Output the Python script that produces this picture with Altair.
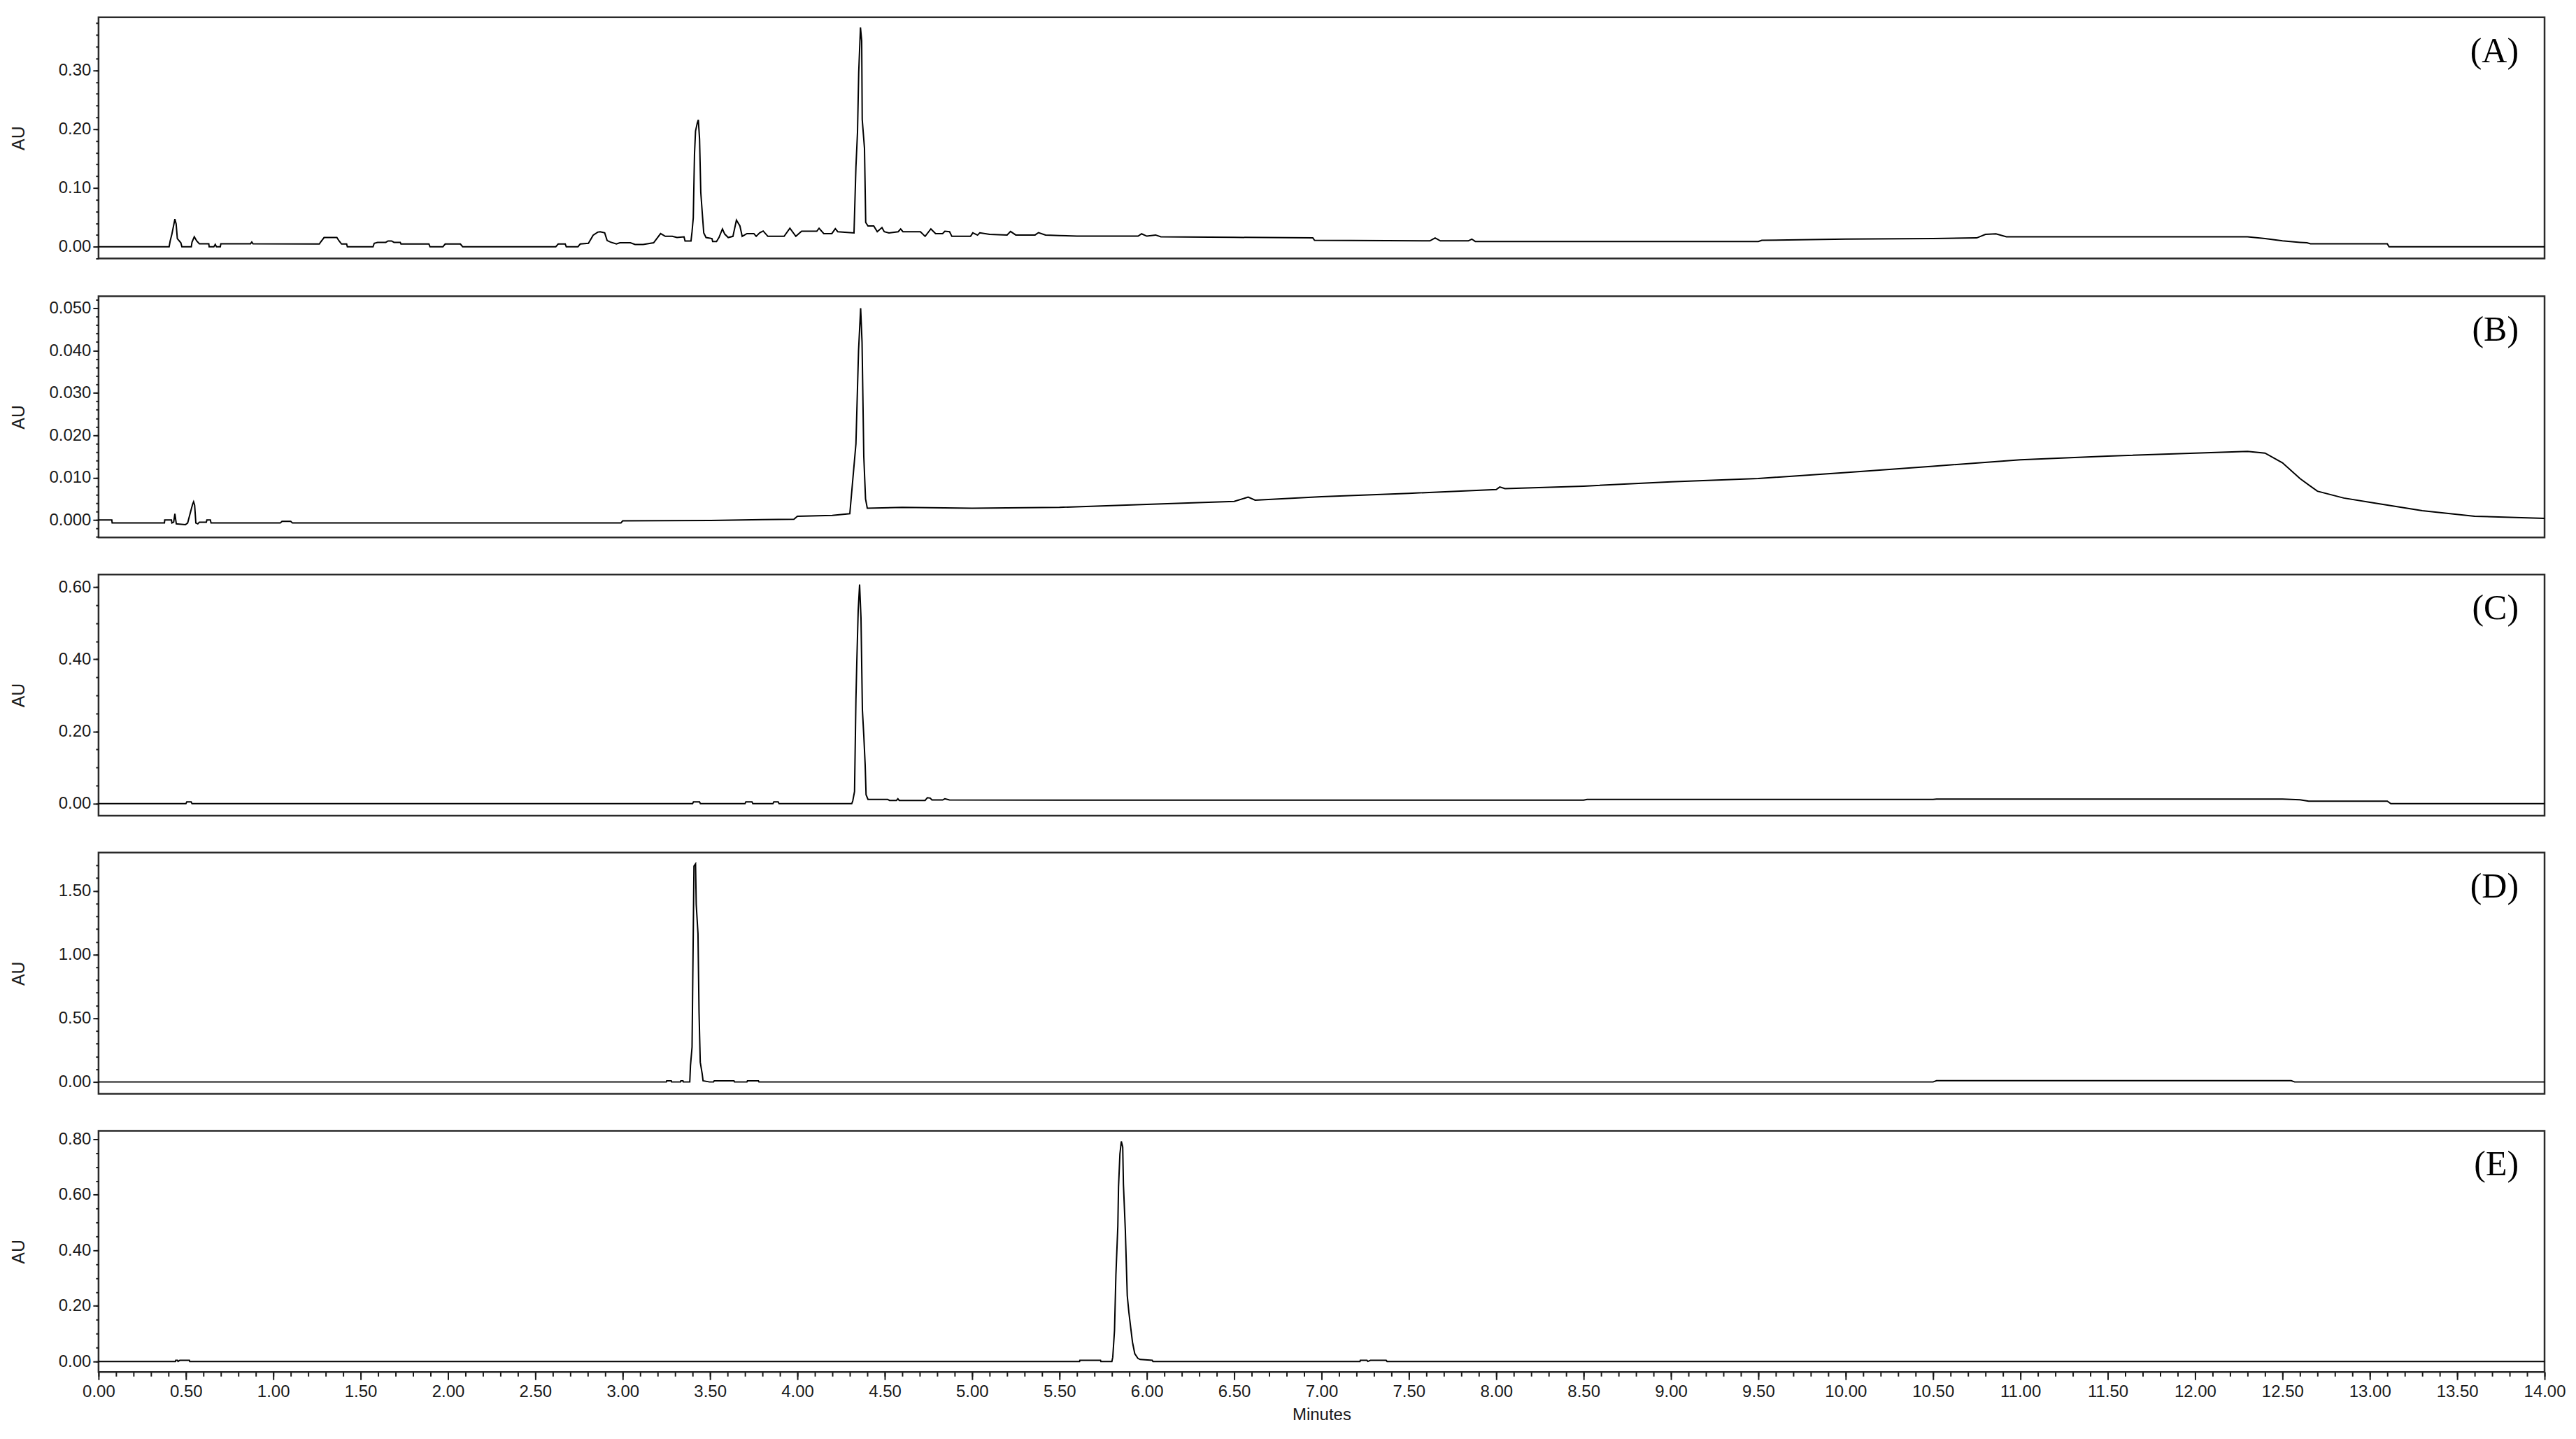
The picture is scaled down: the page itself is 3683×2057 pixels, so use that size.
import altair as alt
import pandas as pd

# ---------------- data (minutes, AU) ----------------
A_t = [0.00, 0.404, 0.41, 0.42, 0.437, 0.444, 0.451, 0.471, 0.477, 0.531, 0.535, 0.548, 0.562, 0.577,
       0.631, 0.633, 0.66, 0.668, 0.675, 0.697, 0.700, 0.87, 0.877, 0.884, 1.264, 1.271, 1.291, 1.364,
       1.377, 1.391, 1.42, 1.424, 1.571, 1.578, 1.597, 1.644, 1.657, 1.677, 1.691, 1.727, 1.731, 1.891,
       1.897, 1.971, 1.984, 2.071, 2.084, 2.617, 2.631, 2.671, 2.677, 2.744, 2.757, 2.804, 2.831, 2.857,
       2.871, 2.897, 2.911, 2.931, 2.964, 2.984, 3.044, 3.071, 3.117, 3.177, 3.217, 3.244, 3.284, 3.311,
       3.351, 3.357, 3.391, 3.397, 3.404, 3.411, 3.417, 3.427, 3.433, 3.440, 3.447, 3.457, 3.464, 3.477,
       3.511, 3.515, 3.537, 3.551, 3.571, 3.584, 3.604, 3.631, 3.651, 3.671, 3.684, 3.711, 3.751, 3.764,
       3.784, 3.804, 3.831, 3.924, 3.957, 3.991, 4.024, 4.111, 4.124, 4.151, 4.197, 4.217, 4.231, 4.324,
       4.335, 4.344, 4.351, 4.361, 4.368, 4.371, 4.384, 4.391, 4.404, 4.437, 4.457, 4.484, 4.497, 4.524,
       4.577, 4.591, 4.604, 4.704, 4.731, 4.764, 4.791, 4.831, 4.844, 4.871, 4.884, 4.991, 5.004, 5.031,
       5.044, 5.10, 5.20, 5.22, 5.25, 5.36, 5.38, 5.42, 5.5, 5.6, 5.95, 5.97, 6.0, 6.05, 6.08, 6.5, 6.95,
       6.96, 7.62, 7.65, 7.68, 7.84, 7.86, 7.88, 9.5, 9.52, 10.0, 10.5, 10.75, 10.8, 10.86, 10.92, 11.5,
       12.3, 12.4, 12.5, 12.6, 12.64, 12.66, 13.10, 13.11, 14.0]
A_v = [0.0, 0.0, 0.0098, 0.0217, 0.047, 0.039, 0.0138, 0.0067, 0.0, 0.0, 0.0079, 0.0169, 0.0098, 0.0051,
       0.0051, 0.0, 0.0, 0.004, 0.0, 0.0, 0.0051, 0.0051, 0.008, 0.0051, 0.0047, 0.0079, 0.0157, 0.0157,
       0.0098, 0.0047, 0.0047, 0.0, 0.0, 0.0059, 0.0075, 0.0075, 0.0098, 0.0098, 0.0075, 0.0075, 0.0047, 0.0047,
       0.0, 0.0, 0.0047, 0.0047, 0.0, 0.0, 0.0047, 0.0047, 0.0, 0.0, 0.0047, 0.0059, 0.0197, 0.0248,
       0.0256, 0.0236, 0.0106, 0.0079, 0.0047, 0.0067, 0.0067, 0.0039, 0.0039, 0.0067, 0.0224, 0.0177, 0.0177, 0.0157,
       0.0169, 0.0098, 0.0098, 0.0256, 0.0492, 0.1574, 0.1968, 0.2105, 0.2157, 0.183, 0.0925, 0.0512, 0.0236, 0.0157,
       0.0138, 0.009, 0.009, 0.0157, 0.0303, 0.0216, 0.0157, 0.0177, 0.0452, 0.0354, 0.0177, 0.0224, 0.0224, 0.0177,
       0.0236, 0.0268, 0.0177, 0.0177, 0.0315, 0.0177, 0.0264, 0.0264, 0.0315, 0.0224, 0.0224, 0.0307, 0.0256, 0.0236,
       0.1358, 0.1948, 0.2971, 0.3727, 0.3503, 0.2164, 0.1673, 0.0413, 0.0354, 0.0354, 0.0256, 0.0327, 0.0256, 0.0236,
       0.0256, 0.0303, 0.0256, 0.0256, 0.0177, 0.0303, 0.0224, 0.0224, 0.0264, 0.0256, 0.0177, 0.0177, 0.0236, 0.0197,
       0.0236, 0.021, 0.02, 0.026, 0.02, 0.02, 0.024, 0.02, 0.019, 0.018, 0.018, 0.022, 0.018, 0.02, 0.017, 0.016, 0.015,
       0.011, 0.010, 0.015, 0.010, 0.010, 0.013, 0.009, 0.009, 0.011, 0.013, 0.014, 0.015, 0.021, 0.022, 0.017, 0.017,
       0.017, 0.014, 0.010, 0.0075, 0.0067, 0.0051, 0.0051, 0.0, 0.0]

B_t = [0.0, 0.076, 0.078, 0.377, 0.379, 0.417, 0.42, 0.43, 0.437, 0.445, 0.497, 0.51, 0.538, 0.544, 0.55,
       0.557, 0.568, 0.577, 0.617, 0.62, 0.64, 0.644, 1.04, 1.05, 1.10, 1.11, 2.99, 3.0, 3.5, 3.8, 3.98,
       4.0, 4.2, 4.3, 4.335, 4.35, 4.362, 4.37, 4.38, 4.39, 4.40, 4.6, 5.0, 5.5, 6.0, 6.5, 6.58, 6.62,
       7.0, 7.5, 8.0, 8.02, 8.05, 8.5, 9.0, 9.5, 10.0, 10.5, 11.0, 11.5, 12.0, 12.3, 12.4, 12.5, 12.6,
       12.7, 12.85, 13.0, 13.3, 13.6, 14.0]
B_v = [0.0, 0.0, -0.0007, -0.0007, 0.0, 0.0, -0.0007, -0.0005, 0.0015, -0.0009, -0.0011, -0.0007, 0.0037,
       0.0043, 0.0035, -0.0007, -0.0009, -0.0005, -0.0005, 0.0, 0.0, -0.0007, -0.0007, -0.0003, -0.0003,
       -0.0007, -0.0007, -0.0002, -0.0001, 0.0001, 0.0002, 0.0009, 0.0011, 0.0015, 0.018, 0.040, 0.050, 0.042,
       0.015, 0.005, 0.0028, 0.003, 0.0028, 0.003, 0.0037, 0.0044, 0.0054, 0.0047, 0.0055, 0.0063, 0.0072,
       0.0078, 0.0074, 0.008, 0.009, 0.0098, 0.0112, 0.0127, 0.0142, 0.0151, 0.0158, 0.0162, 0.0158, 0.0135,
       0.0098, 0.0068, 0.0052, 0.0042, 0.0022, 0.0009, 0.0004]

C_t = [0.0, 0.50, 0.505, 0.53, 0.535, 3.40, 3.405, 3.44, 3.445, 3.70, 3.705, 3.74, 3.745, 3.86, 3.865,
       3.89, 3.895, 4.311, 4.317, 4.327, 4.335, 4.340, 4.348, 4.356, 4.364, 4.372, 4.380, 4.388, 4.393,
       4.404, 4.517, 4.527, 4.567, 4.575, 4.583, 4.731, 4.744, 4.76, 4.77, 4.831, 4.844, 4.87, 5.5, 8.5,
       8.52, 10.5, 10.52, 12.5, 12.6, 12.65, 13.1, 13.12, 14.0]
C_v = [0.0, 0.0, 0.005, 0.005, 0.0, 0.0, 0.005, 0.005, 0.0, 0.0, 0.005, 0.005, 0.0, 0.0, 0.005, 0.005,
       0.0, 0.0, 0.008, 0.034, 0.289, 0.392, 0.536, 0.607, 0.514, 0.260, 0.189, 0.106, 0.025, 0.012, 0.012,
       0.009, 0.009, 0.0135, 0.009, 0.009, 0.0167, 0.0155, 0.0103, 0.0103, 0.0135, 0.0103, 0.010, 0.010,
       0.012, 0.012, 0.013, 0.013, 0.011, 0.007, 0.007, 0.0, 0.0]

D_t = [0.0, 3.25, 3.252, 3.278, 3.28, 3.331, 3.333, 3.345, 3.347, 3.384, 3.388, 3.397, 3.401, 3.408,
       3.417, 3.421, 3.431, 3.437, 3.444, 3.455, 3.460, 3.497, 3.52, 3.524, 3.637, 3.64, 3.711, 3.714,
       3.777, 3.78, 10.5, 10.52, 12.55, 12.57, 14.0]
D_v = [0.0, 0.0, 0.009, 0.009, 0.0, 0.0, 0.009, 0.009, 0.0, 0.0, 0.128, 0.274, 0.787, 1.694, 1.712,
       1.392, 1.163, 0.549, 0.155, 0.064, 0.009, 0.0, 0.0, 0.009, 0.009, 0.0, 0.0, 0.009, 0.009, 0.0,
       0.0, 0.01, 0.01, 0.0, 0.0]

E_t = [0.0, 0.44, 0.442, 0.452, 0.455, 0.465, 0.52, 0.522, 5.615, 5.617, 5.735, 5.737, 5.800, 5.805,
       5.815, 5.823, 5.834, 5.838, 5.846, 5.854, 5.862, 5.866, 5.877, 5.888, 5.897, 5.908, 5.918, 5.931,
       5.949, 5.962, 6.031, 6.035, 7.22, 7.222, 7.26, 7.265, 7.28, 7.37, 7.375, 14.0]
E_v = [0.0, 0.0, 0.004, 0.004, 0.0, 0.004, 0.004, 0.0, 0.0, 0.004, 0.004, 0.0, 0.0, 0.015, 0.111,
       0.312, 0.487, 0.629, 0.747, 0.792, 0.772, 0.638, 0.471, 0.237, 0.178, 0.120, 0.069, 0.028, 0.011,
       0.007, 0.004, 0.0, 0.0, 0.004, 0.004, 0.0, 0.004, 0.004, 0.0, 0.0]

X_MAJOR = [round(0.5 * i, 2) for i in range(29)]
X_MINOR = [round(0.1 * i, 1) for i in range(141)]


def steps(lo, hi, step, nd):
    out = []
    k = 0
    while True:
        v = round(lo + k * step, nd)
        if v > hi + 1e-9:
            break
        out.append(v)
        k += 1
    return out


PANELS = [
    dict(label="(A)", t=A_t, v=A_v, dom=[-0.02, 0.39], major=[0.0, 0.1, 0.2, 0.3],
         minor=steps(-0.02, 0.38, 0.02, 2), fmt=".2f"),
    dict(label="(B)", t=B_t, v=B_v, dom=[-0.0041, 0.0528], major=[0.0, 0.01, 0.02, 0.03, 0.04, 0.05],
         minor=steps(-0.004, 0.052, 0.002, 3), fmt=".3f"),
    dict(label="(C)", t=C_t, v=C_v, dom=[-0.033, 0.635], major=[0.0, 0.2, 0.4, 0.6],
         minor=steps(0.0, 0.6, 0.05, 2), fmt=".2f"),
    dict(label="(D)", t=D_t, v=D_v, dom=[-0.093, 1.80], major=[0.0, 0.5, 1.0, 1.5],
         minor=steps(0.0, 1.7, 0.1, 1), fmt=".2f"),
    dict(label="(E)", t=E_t, v=E_v, dom=[-0.038, 0.830], major=[0.0, 0.2, 0.4, 0.6, 0.8],
         minor=steps(0.0, 0.8, 0.05, 2), fmt=".2f"),
]

W = 3500
H = 345
FONT = "Liberation Sans"
INK = "#1a1a1a"
FRAME = "#2a2a2a"


def make_panel(p, bottom):
    df = pd.DataFrame({"t": p["t"], "v": p["v"]})
    xscale = alt.Scale(domain=[0, 14], nice=False, zero=False)
    yscale = alt.Scale(domain=p["dom"], nice=False, zero=False)
    if bottom:
        x_major = alt.X("t:Q", scale=xscale, axis=alt.Axis(
            values=X_MAJOR, format=".2f", orient="bottom", tickSize=11, tickWidth=2, tickColor=INK,
            labelFont=FONT, labelFontSize=24, labelColor=INK, labelPadding=5, labelFlush=False,
            domain=False, grid=False, title="Minutes", titleFont=FONT, titleFontSize=24,
            titleFontWeight="normal", titleColor=INK, titlePadding=9))
        x_minor = alt.X("t:Q", scale=xscale, axis=alt.Axis(
            values=X_MINOR, labels=False, orient="bottom", tickSize=6, tickWidth=2, tickColor=INK,
            domain=False, grid=False, title=None))
    else:
        x_major = alt.X("t:Q", scale=xscale, axis=None)
        x_minor = alt.X("t:Q", scale=xscale, axis=None)

    y_major = alt.Y("v:Q", scale=yscale, axis=alt.Axis(
        values=p["major"], format=p["fmt"], orient="left", tickSize=8, tickWidth=2, tickColor=INK,
        labelFont=FONT, labelFontSize=24, labelColor=INK, labelPadding=3, labelFlush=False,
        domain=False, grid=False, title="AU", titleFont=FONT, titleFontSize=25,
        titleFontWeight="normal", titleColor=INK, titleX=-101))
    y_minor = alt.Y("v:Q", scale=yscale, axis=alt.Axis(
        values=p["minor"], labels=False, orient="left", tickSize=4, tickWidth=2, tickColor=INK,
        domain=False, grid=False, title=None))

    line = alt.Chart(df).mark_line(color="black", strokeWidth=2).encode(x=x_major, y=y_major)
    ghost = alt.Chart(df).mark_line(opacity=0).encode(x=x_minor, y=y_minor)
    letter = alt.Chart(pd.DataFrame({"lab": [p["label"]]})).mark_text(
        font="Liberation Serif", fontSize=50, color="black", align="right", baseline="middle"
    ).encode(x=alt.value(W - 37), y=alt.value(49), text="lab:N")

    return alt.layer(line, ghost, letter).resolve_axis(x="independent", y="independent").properties(
        width=W, height=H, view=alt.ViewConfig(stroke=FRAME, strokeWidth=2.5))


panels = [make_panel(p, i == len(PANELS) - 1) for i, p in enumerate(PANELS)]

chart = alt.vconcat(*panels, spacing=49).properties(
    padding={"left": 5, "top": 14, "right": 5, "bottom": 5}
).configure_view(stroke=FRAME, strokeWidth=2.5).configure(background="white")

chart.save("out.html", embed_options={"renderer": "svg", "actions": False})
